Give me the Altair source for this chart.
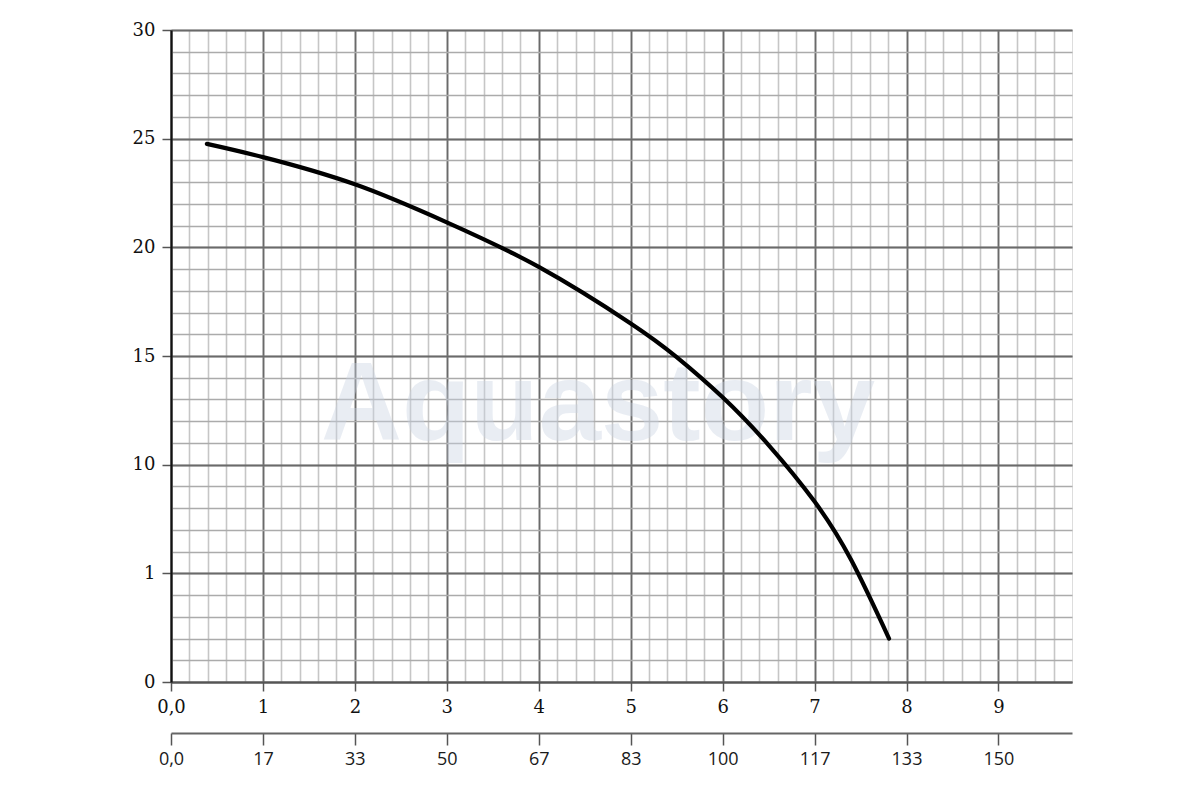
import altair as alt
import pandas as pd

# Curve (flow, head)
flow = [0.39, 1.0, 2.0, 3.0, 4.0, 5.0, 5.5, 6.0, 6.5, 7.0, 7.4, 7.81]
head = [24.76, 24.15, 22.9, 21.15, 19.1, 16.5, 14.95, 13.1, 10.9, 8.3, 5.6, 2.0]

x_ticks = [0, 1, 2, 3, 4, 5, 6, 7, 8, 9]
x_labels_1 = ["0,0", "1", "2", "3", "4", "5", "6", "7", "8", "9"]
x_labels_2 = ["0,0", "17", "33", "50", "67", "83", "100", "117", "133", "150"]
y_ticks = [0, 5, 10, 15, 20, 25, 30]
y_labels = ["0", "1", "10", "15", "20", "25", "30"]
watermark = ["Aquastory"]

df = pd.DataFrame({"q": flow, "h": head})

XMAX = 9.8
xs = alt.Scale(domain=[0, XMAX], nice=False, zero=False)
ys = alt.Scale(domain=[0, 30], nice=False, zero=False)

minor_x = [round(i * 0.2, 1) for i in range(0, 49)]
minor_y = list(range(0, 31))

def expr_from(labels, div=1):
    arr = "[" + ",".join("'" + s + "'" for s in labels) + "]"
    return f"{arr}[round(datum.value/{div})]"

SERIF = "DejaVu Serif"

minor = alt.Chart(df).mark_line(opacity=0).encode(
    x=alt.X("q:Q", scale=xs, axis=alt.Axis(orient="bottom", values=minor_x, grid=True,
            gridColor="#c6c6c6", gridWidth=1.6, labels=False, ticks=False, domain=False, title=None)),
    y=alt.Y("h:Q", scale=ys, axis=alt.Axis(orient="left", values=minor_y, grid=True,
            gridColor="#ababab", gridWidth=1.6, labels=False, ticks=False, domain=False, title=None)),
)

major = alt.Chart(df).mark_line(opacity=0).encode(
    x=alt.X("q:Q", scale=xs, axis=alt.Axis(
        orient="bottom", values=x_ticks, grid=True, gridColor="#6a6a6a", gridWidth=1.8,
        labelExpr=expr_from(x_labels_1), labelFont=SERIF, labelFontSize=18, labelColor="#111",
        labelPadding=7, tickSize=9, tickColor="#555", tickWidth=1.5,
        domainColor="#555", domainWidth=2.2, title=None, labelFlush=False, labelOverlap=False)),
    y=alt.Y("h:Q", scale=ys, axis=alt.Axis(
        orient="left", values=y_ticks, grid=True, gridColor="#6a6a6a", gridWidth=1.8,
        labelExpr=expr_from(y_labels, 5), labelFont=SERIF, labelFontSize=18, labelColor="#111",
        labelPadding=7, tickSize=9, tickColor="#555", tickWidth=1.5,
        domainColor="#111", domainWidth=2.2, title=None, labelFlush=False, labelOverlap=False)),
)

second = alt.Chart(df).mark_line(opacity=0).encode(
    x=alt.X("q:Q", scale=xs, axis=alt.Axis(
        orient="bottom", offset=51, values=x_ticks, grid=False,
        labelExpr=expr_from(x_labels_2), labelFont="Open Sans", labelFontSize=18, labelColor="#1a1a1a",
        labelPadding=5, tickSize=12, tickColor="#555", tickWidth=1.5,
        domainColor="#666", domainWidth=2.2, title=None, labelFlush=False, labelOverlap=False)),
    y=alt.Y("h:Q", scale=ys, axis=None),
)

wm = alt.Chart(pd.DataFrame({"t": watermark})).mark_text(
    font="Liberation Sans", fontWeight="bold", fontSize=112, color="#c9d3e3", opacity=0.4,
    align="center", baseline="alphabetic",
).encode(text="t:N", x=alt.value(427), y=alt.value(410))

curve = alt.Chart(df).mark_line(color="#000", strokeWidth=4.2, interpolate="natural",
                                strokeCap="round").encode(
    x=alt.X("q:Q", scale=xs, axis=None),
    y=alt.Y("h:Q", scale=ys, axis=None),
)

chart = alt.layer(minor, major, second, wm, curve).resolve_scale(
    x="independent", y="independent"
).properties(
    width=901, height=652,
    autosize=alt.AutoSizeParams(type="none"),
    padding={"left": 163, "top": 22, "right": 100, "bottom": 100},
).configure_view(stroke=None).configure(background="#ffffff")

chart.save("out.html", embed_options={"renderer": "svg", "actions": False})
